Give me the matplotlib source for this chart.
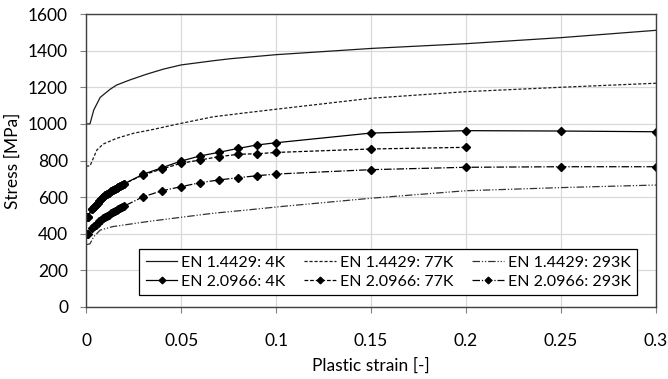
import matplotlib
matplotlib.use("Agg")
import matplotlib.pyplot as plt
from matplotlib.ticker import FuncFormatter

# EN 1.4429 (lines only)
strain_a4 = [0, 0.002, 0.004, 0.0074, 0.0126, 0.016, 0.023, 0.032, 0.041, 0.05,
             0.067, 0.076, 0.1, 0.15, 0.2, 0.25, 0.3]
stress_a4 = [1000, 1000, 1076, 1145, 1189, 1212, 1240, 1272, 1300, 1322,
             1345, 1356, 1378, 1412, 1438, 1471, 1511]

strain_a77 = [0, 0.002, 0.0056, 0.009, 0.016, 0.025, 0.034, 0.05, 0.067, 0.086,
              0.1, 0.15, 0.2, 0.25, 0.3]
stress_a77 = [770, 770, 857, 890, 921, 949, 967, 1003, 1039, 1063,
              1080, 1140, 1176, 1200, 1222]

strain_a293 = [0, 0.002, 0.004, 0.0074, 0.014, 0.032, 0.05, 0.067, 0.085, 0.102,
               0.15, 0.2, 0.25, 0.3]
stress_a293 = [340, 345, 384, 420, 439, 466, 490, 512, 530, 548,
               594, 635, 652, 666]

# EN 2.0966 (lines with markers)
strain_b_low = [0, 0.0005, 0.001, 0.003, 0.004, 0.005, 0.006, 0.007, 0.008, 0.009,
                0.010, 0.011, 0.012, 0.013, 0.014, 0.015, 0.016, 0.017, 0.018,
                0.019, 0.020]
stress_b4_low = [490, 491, 494, 535, 545, 558, 570, 580, 590, 600,
                 610, 618, 625, 633, 640, 646, 652, 658, 663,
                 668, 673]
stress_b293_low = [397, 398, 400, 430, 440, 450, 460, 468, 477, 485,
                   492, 498, 505, 512, 518, 524, 530, 536, 541,
                   546, 551]

strain_b_mid = [0.03, 0.04, 0.05, 0.06, 0.07, 0.08, 0.09, 0.1]
stress_b4_mid = [725, 761, 797, 825, 845, 866, 885, 897]
stress_b77_mid = [721, 754, 785, 803, 821, 834, 837, 844]
stress_b293_mid = [602, 635, 657, 679, 694, 706, 717, 726]

strain_b4_high = [0.15, 0.2, 0.25, 0.3]
stress_b4_high = [950, 963, 961, 957]
strain_b77_high = [0.15, 0.2]
stress_b77_high = [863, 872]
strain_b293_high = [0.15, 0.2, 0.25, 0.3]
stress_b293_high = [750, 763, 766, 766]

strain_b4 = strain_b_low + strain_b_mid + strain_b4_high
stress_b4 = stress_b4_low + stress_b4_mid + stress_b4_high
strain_b77 = strain_b_low + strain_b_mid + strain_b77_high
stress_b77 = stress_b4_low + stress_b77_mid + stress_b77_high
strain_b293 = strain_b_low + strain_b_mid + strain_b293_high
stress_b293 = stress_b293_low + stress_b293_mid + stress_b293_high

plt.rcParams['font.family'] = ['Lato', 'DejaVu Sans']
plt.rcParams['font.size'] = 12.5

fig = plt.figure(figsize=(6.68, 3.79), dpi=100)
ax = fig.add_axes([0.129, 0.190, 0.853, 0.773])

lw = 0.9
ms = 4.2
l1, = ax.plot(strain_a4, stress_a4, color='#1a1a1a', lw=lw, label="EN 1.4429: 4K")
l2, = ax.plot(strain_a77, stress_a77, color='#1a1a1a', lw=lw, dashes=(2.5, 1.5),
              label="EN 1.4429: 77K")
l3, = ax.plot(strain_a293, stress_a293, color='#333333', lw=lw,
              dashes=(6, 1.5, 1, 1.5, 1, 1.5), label="EN 1.4429: 293K")
l4, = ax.plot(strain_b4, stress_b4, color='black', lw=lw, marker='D', ms=ms,
              label="EN 2.0966: 4K")
l5, = ax.plot(strain_b77, stress_b77, color='black', lw=lw, marker='D', ms=ms,
              dashes=(3, 1.5), label="EN 2.0966: 77K")
l6, = ax.plot(strain_b293, stress_b293, color='black', lw=lw, marker='D', ms=ms,
              dashes=(6, 1.5, 1, 1.5), label="EN 2.0966: 293K")

ax.set_xlim(0, 0.3)
ax.set_ylim(0, 1600)
ax.set_xticks([0, 0.05, 0.1, 0.15, 0.2, 0.25, 0.3])
ax.set_yticks(range(0, 1601, 200))
ax.xaxis.set_major_formatter(FuncFormatter(lambda v, p: f"{v:g}"))
ax.grid(True, color='#d9d9d9', lw=0.9)
ax.set_axisbelow(True)
for s in ax.spines.values():
    s.set_color('#404040')
    s.set_linewidth(1.0)
ax.tick_params(direction='out', length=4, color='#808080')
ax.tick_params(axis='x', pad=15)
ax.tick_params(axis='y', pad=9)
ax.set_xlabel("Plastic strain [-]", labelpad=6)
ax.set_ylabel("Stress [MPa]", labelpad=5)

handles = [l1, l4, l2, l5, l3, l6]
leg = ax.legend(handles=handles, ncol=3, loc='lower left',
                bbox_to_anchor=(0.093, 0.041, 0.874, 0.16), mode='expand',
                fancybox=False, edgecolor='black', framealpha=1, numpoints=1,
                markerscale=0.8, handlelength=2.0, handletextpad=0.25,
                borderpad=0.4, borderaxespad=0, labelspacing=0.3,
                columnspacing=0.8, fontsize=11.5)
leg.get_frame().set_linewidth(0.9)

fig.savefig("out.png", dpi=100)
